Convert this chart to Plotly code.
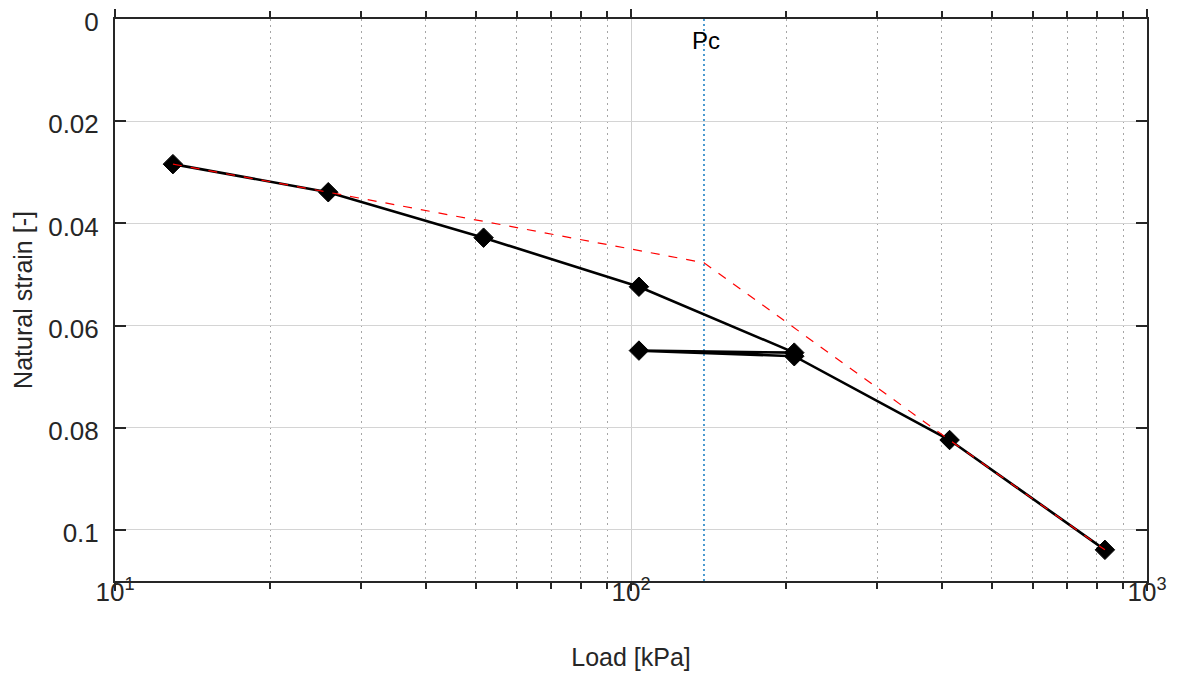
import numpy as np
import plotly.graph_objects as go

# Measured curve (loading - unloading - reloading)
load_kpa = [12.95, 25.9, 51.8, 103.6, 207.2, 103.6, 207.2, 414.4, 828.8]
strain = [0.0284, 0.0339, 0.0428, 0.0524, 0.0653, 0.0649, 0.0660, 0.0824, 0.1039]

# Construction line (red dashed)
constr_load = [12.95, 25.9, 138.5, 414.4, 828.8]
constr_strain = [0.0284, 0.0339, 0.0477, 0.0824, 0.1039]

# Preconsolidation pressure
pc_load = 138.5
pc_range = [0.0, 0.11]

x_major = [10, 100, 1000]
x_major_text = ["10<sup>1</sup>", "10<sup>2</sup>", "10<sup>3</sup>"]
x_minor = [20, 30, 40, 50, 60, 70, 80, 90, 200, 300, 400, 500, 600, 700, 800, 900]
y_ticks = [0, 0.02, 0.04, 0.06, 0.08, 0.1]
y_text = ["0", "0.02", "0.04", "0.06", "0.08", "0.1"]

axis_col = "#262626"
font_fam = "Liberation Sans, Arial, Helvetica, sans-serif"

fig = go.Figure()

fig.add_trace(go.Scatter(
    x=[pc_load, pc_load], y=pc_range, mode="lines",
    line=dict(color="#0072BD", width=1.4, dash="2px,3px"), showlegend=False, hoverinfo="skip"))

fig.add_trace(go.Scatter(
    x=load_kpa, y=strain, mode="lines+markers",
    line=dict(color="black", width=2.6),
    marker=dict(symbol="diamond", size=15, color="black",
                line=dict(color="black", width=1)),
    showlegend=False))

fig.add_trace(go.Scatter(
    x=constr_load, y=constr_strain, mode="lines",
    line=dict(color="#ff0000", width=1.2, dash="dash"),
    showlegend=False))

fig.add_annotation(
    x=np.log10(pc_load), y=0.0041, text="Pc", showarrow=False,
    xanchor="center", yanchor="middle", xshift=2,
    font=dict(size=24, color="black", family=font_fam))

fig.update_xaxes(
    type="log", range=[1, 3],
    tickmode="array", tickvals=x_major, ticktext=x_major_text,
    ticks="outside", ticklen=8, tickwidth=2, tickcolor=axis_col,
    ticklabelstandoff=-21, ticklabeloverflow="allow",
    showline=True, linecolor=axis_col, linewidth=2, mirror="allticks",
    showgrid=True, gridcolor="#cfcfcf", gridwidth=1,
    minor=dict(tickmode="array", tickvals=x_minor, ticks="outside", ticklen=6,
               tickwidth=1.5, tickcolor=axis_col, showgrid=True,
               gridcolor="#a6a6a6", griddash="2px,4px", gridwidth=1),
    tickfont=dict(size=26, color=axis_col, family=font_fam),
    title=dict(text="Load [kPa]", standoff=42,
               font=dict(size=25, color=axis_col, family=font_fam)),
    zeroline=False,
)

fig.update_yaxes(
    range=[0.11, -0.00001], autorange=False,
    tickmode="array", tickvals=y_ticks, ticktext=y_text,
    ticks="inside", ticklen=11, tickwidth=2, tickcolor=axis_col,
    ticklabelstandoff=9, ticklabelshift=-3, ticklabeloverflow="allow",
    showline=True, linecolor=axis_col, linewidth=2, mirror="allticks",
    showgrid=True, gridcolor="#d4d4d4", gridwidth=1,
    tickfont=dict(size=26, color=axis_col, family=font_fam),
    title=dict(text="Natural strain [-]", standoff=8,
               font=dict(size=25, color=axis_col, family=font_fam)),
    zeroline=False,
)

# The page body adds an 8px offset; compensate so the plot area lands where the reference has it
fig.update_layout(
    width=1171, height=669, autosize=False,
    margin=dict(l=107, r=32, t=11, b=96, autoexpand=False),
    plot_bgcolor="white", paper_bgcolor="white",
    font=dict(family=font_fam, color=axis_col),
)

fig.write_html("out.html")
